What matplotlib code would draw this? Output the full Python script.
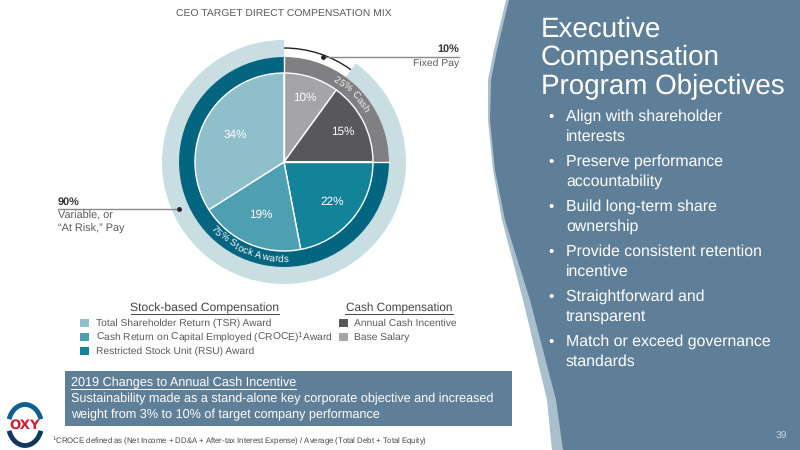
import numpy as np
import matplotlib
matplotlib.use('Agg')
import matplotlib.pyplot as plt
from matplotlib.patches import Polygon, Rectangle, Arc
from matplotlib.textpath import TextPath
from matplotlib.font_manager import FontProperties

plt.rcParams['font.family'] = ['Liberation Sans', 'DejaVu Sans']
plt.rcParams['text.hinting'] = 'no_hinting'

# chart values
pie_values = [10, 15, 22, 19, 34]
pie_colors = ['#a5a5a8', '#58585b', '#13839a', '#4f9fb2', '#8fbfcb']
ring_values = [25, 75]
ring_colors = ['#808082', '#03657f']
pay_values = [10, 90]
pay_colors = ['none', '#c8dee3']

stock_items = ['Total Shareholder Return (TSR) Award',
               'Cash Return on Capital Employed (CROCE)$^{1}$Award',
               'Restricted Stock Unit (RSU) Award']
stock_colors = ['#8fbfcb', '#4f9fb2', '#13839a']
cash_items = ['Annual Cash Incentive', 'Base Salary']
cash_colors = ['#58585b', '#a5a5a8']

title_lines = ['Executive', 'Compensation', 'Program Objectives']
bullets = [['Align with shareholder', 'interests'],
           ['Preserve performance', 'accountability'],
           ['Build long-term share', 'ownership'],
           ['Provide consistent retention', 'incentive'],
           ['Straightforward and', 'transparent'],
           ['Match or exceed governance', 'standards']]

panel_y = [0, 25, 50, 80, 120, 170, 220, 300, 400, 450]
panel_x = [509, 503, 497, 491, 490, 495, 505, 530, 556, 563]
shade_x = [506, 500, 494, 488, 488, 493, 502, 523, 547, 552]

PANEL = '#5f7f99'
TXT = '#5a5a5c'
cx, cy = 284, 450 - 162


def Y(py):
    return 450 - py


def letter_step(ch, r, size):
    fp = FontProperties(family='Liberation Sans', size=size)
    base = TextPath((0, 0), 'n', prop=fp).get_extents().width
    w = TextPath((0, 0), ch + 'n', prop=fp).get_extents().width - base
    if ch == ' ':
        w = size * 0.3
    return np.degrees(w * 100 / 72 / r)


def curved(ax, s, start_deg, r, size, color='white', bottom=False):
    # lay the letters out one by one, 0 deg = top, clockwise positive
    ang = start_deg
    for ch in s:
        step = letter_step(ch, r, size)
        mid = ang - step / 2 if bottom else ang + step / 2
        th = np.radians(mid)
        rot = 180 - mid if bottom else -mid
        ax.text(cx + r * np.sin(th), cy + r * np.cos(th), ch, fontsize=size, color=color,
                rotation=rot, rotation_mode='anchor', ha='center', va='center')
        ang = ang - step if bottom else ang + step


fig = plt.figure(figsize=(8, 4.5), dpi=100)
ax = fig.add_axes([0, 0, 1, 1])

# outer pale ring, dark ring, inner pie
ax.pie(pay_values, colors=pay_colors, startangle=90, counterclock=False, center=(cx, cy),
       radius=122, wedgeprops=dict(width=17, linewidth=0), frame=True)
ax.pie(ring_values, colors=ring_colors, startangle=90, counterclock=False, center=(cx, cy),
       radius=105, wedgeprops=dict(width=16, linewidth=0), frame=True)
ax.pie(pie_values, colors=pie_colors, startangle=90, counterclock=False, center=(cx, cy),
       radius=89, wedgeprops=dict(edgecolor='white', linewidth=1), frame=True)
ax.plot([cx, cx + 105], [cy, cy], color='white', lw=1)
ax.plot([cx, cx], [cy, cy + 105], color='white', lw=1)

# slice percentages
label_r = [68, 66, 63, 58, 56]
start = 0
for v, r in zip(pie_values, label_r):
    th = np.radians((start + v / 2) * 3.6)
    ax.text(cx + r * np.sin(th), cy + r * np.cos(th), f'{v}%', color='white', fontsize=8.5,
            ha='center', va='center')
    start += v

curved(ax, '25% Cash', 31, 97, 7, '#f2f2f2')
curved(ax, '75% Stock Awards', 228, 97, 7, 'white', bottom=True)

# fixed pay bracket
ax.add_patch(Arc((cx, cy), 228, 228, theta1=54, theta2=90, color='#222222', lw=1))

# leader lines
ax.plot([323, 459], [Y(57), Y(57)], color='#8a8a8a', lw=1)
ax.plot([323], [Y(57)], 'o', color='#222222', ms=2.5)
ax.plot([58, 179], [Y(209), Y(209)], color='#8a8a8a', lw=1)
ax.plot([179], [Y(209)], 'o', color='#222222', ms=2.5)

ax.text(459, Y(49), '10%', ha='right', va='center', fontsize=7.8, fontweight='bold', color='#333333')
ax.text(459, Y(63), 'Fixed Pay', ha='right', va='center', fontsize=7.5, color=TXT)
ax.text(58, Y(202), '90%', ha='left', va='center', fontsize=7.8, fontweight='bold', color='#333333')
ax.text(58, Y(216), 'Variable, or', ha='left', va='center', fontsize=7.8, color=TXT)
ax.text(58, Y(229), '\u201cAt Risk,\u201d Pay', ha='left', va='center', fontsize=7.8, color=TXT)

ax.text(176, Y(14), 'CEO TARGET DIRECT COMPENSATION MIX', ha='left', va='center', fontsize=7.5, color=TXT)

# legend blocks
ax.text(205, Y(308), 'Stock-based Compensation', ha='center', va='center', fontsize=8.7, color='#444444')
ax.plot([131, 279], [Y(314), Y(314)], color='#444444', lw=0.7)
ax.text(399, Y(308), 'Cash Compensation', ha='center', va='center', fontsize=8.5, color='#444444')
ax.plot([345, 453], [Y(314), Y(314)], color='#444444', lw=0.7)
for i, (s, c) in enumerate(zip(stock_items, stock_colors)):
    ypx = 323 + i * 14
    ax.add_patch(Rectangle((80, Y(ypx + 4)), 9, 8, color=c, lw=0))
    ax.text(96, Y(ypx), s, ha='left', va='center', fontsize=7.4, color=TXT)
for i, (s, c) in enumerate(zip(cash_items, cash_colors)):
    ypx = 323 + i * 14
    ax.add_patch(Rectangle((339, Y(ypx + 4)), 9, 8, color=c, lw=0))
    ax.text(354, Y(ypx), s, ha='left', va='center', fontsize=7.4, color=TXT)

# note box
ax.add_patch(Rectangle((65, Y(426)), 447, 55, color=PANEL, lw=0))
ax.text(71, Y(383), '2019 Changes to Annual Cash Incentive', ha='left', va='center', fontsize=9.05, color='white')
ax.plot([71, 296], [Y(389), Y(389)], color='white', lw=0.7)
ax.text(71, Y(399), 'Sustainability made as a stand-alone key corporate objective and increased',
        ha='left', va='center', fontsize=9.05, color='white')
ax.text(71, Y(415), 'weight from 3% to 10% of target company performance',
        ha='left', va='center', fontsize=9.05, color='white')

ax.text(52, Y(441), '$^{1}$CROCE defined as (Net Income + DD&A + After-tax Interest Expense) / Average (Total Debt + Total Equity)',
        ha='left', va='center', fontsize=5.55, color='#444444')

# logo
ax.add_patch(Arc((25, Y(425)), 33, 41, theta1=20, theta2=160, color='#0f5f8f', lw=3.5))
ax.add_patch(Arc((25, Y(425)), 33, 41, theta1=200, theta2=340, color='#12375f', lw=3.5))
ax.text(25, Y(425), 'OXY', ha='center', va='center', fontsize=9.5, fontweight='bold',
        color='#c8202f', family='DejaVu Sans')

# right panel
ax.add_patch(Polygon(list(zip(shade_x, [Y(p) for p in panel_y])) + [(800, 0), (800, 450)], color='#a9bfcd', lw=0))
ax.add_patch(Polygon(list(zip(panel_x, [Y(p) for p in panel_y])) + [(800, 0), (800, 450)], color=PANEL, lw=0))

for i, s in enumerate(title_lines):
    ax.text(541, Y(29 + i * 29), s, ha='left', va='center', fontsize=20, color='white')

ypx = 117
for lines in bullets:
    ax.text(548, Y(ypx), '\u2022', ha='left', va='center', fontsize=11, color='white')
    for j, s in enumerate(lines):
        ax.text(566, Y(ypx + j * 20), s, ha='left', va='center', fontsize=11.4, color='white')
    ypx += 45

ax.text(787, Y(436), '39', ha='right', va='center', fontsize=7.5, color='#c5d5df')

ax.set_xlim(0, 800)
ax.set_ylim(0, 450)
ax.axis('off')

fig.savefig('out.png', dpi=100, facecolor='white')
